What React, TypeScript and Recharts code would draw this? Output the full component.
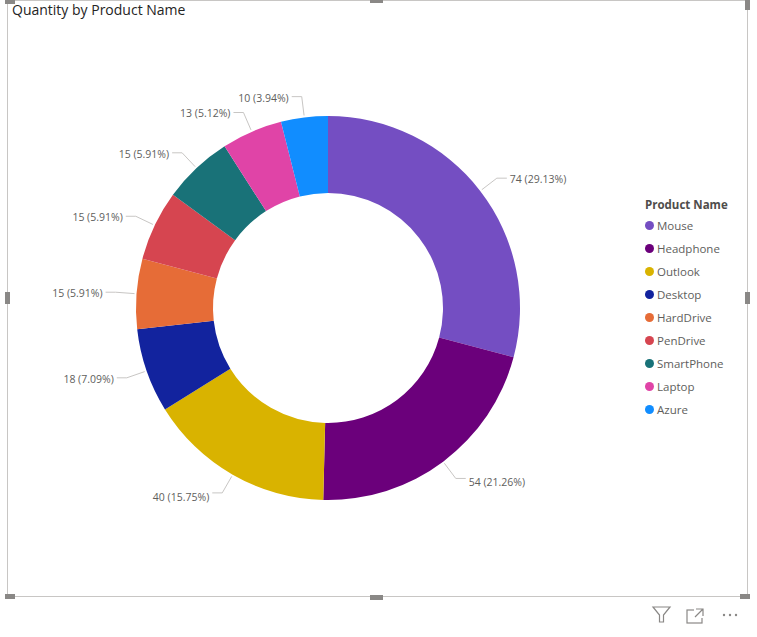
import React from 'react';
import { PieChart, Pie, Cell, Legend } from 'recharts';

const products = ['Mouse', 'Headphone', 'Outlook', 'Desktop', 'HardDrive', 'PenDrive', 'SmartPhone', 'Laptop', 'Azure'];
const quantities = [74, 54, 40, 18, 15, 15, 15, 13, 10];
const colors = ['#744EC2', '#6B007B', '#D9B300', '#12239E', '#E66C37', '#D64550', '#197278', '#E044A7', '#118DFF'];

const data = products.map((name, i) => ({ name, value: quantities[i] }));
const total = quantities.reduce((a, b) => a + b, 0);

const RAD = Math.PI / 180;
const LABEL_FONT = '"Open Sans", sans-serif';

// Work out where every label goes, then nudge the ones that overlap (like Power BI does)
function layoutLabels(cx: number, cy: number, r: number) {
  const elbowR = r + 21;
  let cum = 0;
  const items = quantities.map((v, i) => {
    const angle = 90 - (360 * (cum + v / 2)) / total;
    cum += v;
    const cos = Math.cos(angle * RAD);
    const sin = Math.sin(angle * RAD);
    return {
      i,
      cos,
      sin,
      right: cos >= 0,
      y: cy - elbowR * sin,
      x: cx + elbowR * cos,
    };
  });
  [true, false].forEach((side) => {
    const group = items.filter((d) => d.right === side).sort((a, b) => a.y - b.y);
    for (let k = 1; k < group.length; k++) {
      const prev = group[k - 1];
      const cur = group[k];
      if (cur.y - prev.y < 15) {
        cur.y = prev.y + 15;
        const dy = cur.y - cy;
        const dx = Math.sqrt(Math.max(elbowR * elbowR - dy * dy, 0));
        cur.x = cx + (side ? dx : -dx);
      }
    }
  });
  return items;
}

const renderLabel = (props: any) => {
  const { cx, cy, outerRadius, index } = props;
  const items = layoutLabels(cx, cy, outerRadius);
  const l = items[index];
  const dirX = l.x - cx;
  const dirY = l.y - cy;
  const len = Math.sqrt(dirX * dirX + dirY * dirY);
  const sx = cx + (dirX / len) * (outerRadius + 2);
  const sy = cy + (dirY / len) * (outerRadius + 2);
  const ex = l.x + (l.right ? 10 : -10);
  const v = quantities[index];
  const pct = ((v / total) * 100).toFixed(2);
  // bottom labels sit a little lower under the elbow in the original
  const textDy = l.sin < -0.5 ? 4 : 1;
  return (
    <g>
      <polyline
        points={`${sx},${sy} ${l.x},${l.y} ${ex},${l.y}`}
        fill="none"
        stroke="#C8C6C4"
        strokeWidth={1}
      />
      <text
        x={ex + (l.right ? 3 : -3)}
        y={l.y + textDy}
        textAnchor={l.right ? 'start' : 'end'}
        dominantBaseline="central"
        fill="#605E5C"
        fontSize={10.5}
        fontFamily={LABEL_FONT}
      >
        {`${v} (${pct}%)`}
      </text>
    </g>
  );
};

const renderLegend = () => (
  <div style={{ fontFamily: LABEL_FONT }}>
    <div style={{ fontSize: 11.5, fontWeight: 700, color: '#4F4D4B', marginBottom: 1, lineHeight: '16px' }}>
      Product Name
    </div>
    {products.map((name, i) => (
      <div key={name} style={{ display: 'flex', alignItems: 'center', height: 23 }}>
        <span
          style={{
            display: 'inline-block',
            width: 9,
            height: 9,
            borderRadius: '50%',
            background: colors[i],
            marginRight: 3,
          }}
        />
        <span style={{ fontSize: 11.5, color: '#605E5C' }}>{name}</span>
      </div>
    ))}
  </div>
);

const handle = (left: number, top: number, w: number, h: number) => (
  <div style={{ position: 'absolute', left, top, width: w, height: h, background: '#8A8886' }} />
);

export default function App() {
  return (
    <div style={{ position: 'absolute', left: 0, top: 0, width: 757, height: 637, background: '#fff', overflow: 'hidden' }}>
      {/* visual frame */}
      <div
        style={{
          position: 'absolute',
          left: 7,
          top: 0,
          width: 741,
          height: 597,
          border: '1px solid #C8C6C4',
          boxSizing: 'border-box',
        }}
      />
      {handle(5, 0, 10, 4)}
      {handle(370, 0, 13, 3)}
      {handle(745, 0, 5, 10)}
      {handle(5, 292, 5, 12)}
      {handle(745, 292, 5, 12)}
      {handle(5, 594, 10, 5)}
      {handle(370, 595, 13, 5)}
      {handle(740, 594, 10, 5)}

      <div
        style={{
          position: 'absolute',
          left: 12,
          top: 0,
          fontFamily: LABEL_FONT,
          fontSize: 14,
          color: '#252423',
        }}
      >
        Quantity by Product Name
      </div>

      <div style={{ position: 'absolute', left: 0, top: 0 }}>
        <PieChart width={757} height={597} margin={{ top: 0, right: 0, bottom: 0, left: 0 }}>
          <Pie
            data={data}
            dataKey="value"
            nameKey="name"
            cx={328}
            cy={308}
            innerRadius={115}
            outerRadius={192}
            startAngle={90}
            endAngle={-270}
            stroke="none"
            label={renderLabel}
            labelLine={false}
            isAnimationActive={false}
          >
            {data.map((d, i) => (
              <Cell key={d.name} fill={colors[i]} />
            ))}
          </Pie>
          <Legend
            layout="vertical"
            align="right"
            verticalAlign="middle"
            content={renderLegend}
            wrapperStyle={{ position: 'absolute', left: 645, top: 197, width: 105 }}
          />
        </PieChart>
      </div>

      {/* header icons */}
      <svg style={{ position: 'absolute', left: 640, top: 600 }} width={110} height={30}>
        <path d="M13 7 L30 7 L23.5 15 L23.5 22 L19.5 22 L19.5 15 Z" fill="none" stroke="#8A8886" strokeWidth={1.2} />
        <rect x={47} y={10} width={15} height={13} fill="none" stroke="#8A8886" strokeWidth={1.2} />
        <path d="M54 10 L62 10 L62 18" fill="none" stroke="#fff" strokeWidth={3} />
        <path d="M56 9 L63 9 L63 16 M63 9 L55 17" fill="none" stroke="#8A8886" strokeWidth={1.2} />
        <circle cx={84} cy={15} r={1.2} fill="#8A8886" />
        <circle cx={90} cy={15} r={1.2} fill="#8A8886" />
        <circle cx={96} cy={15} r={1.2} fill="#8A8886" />
      </svg>
    </div>
  );
}
